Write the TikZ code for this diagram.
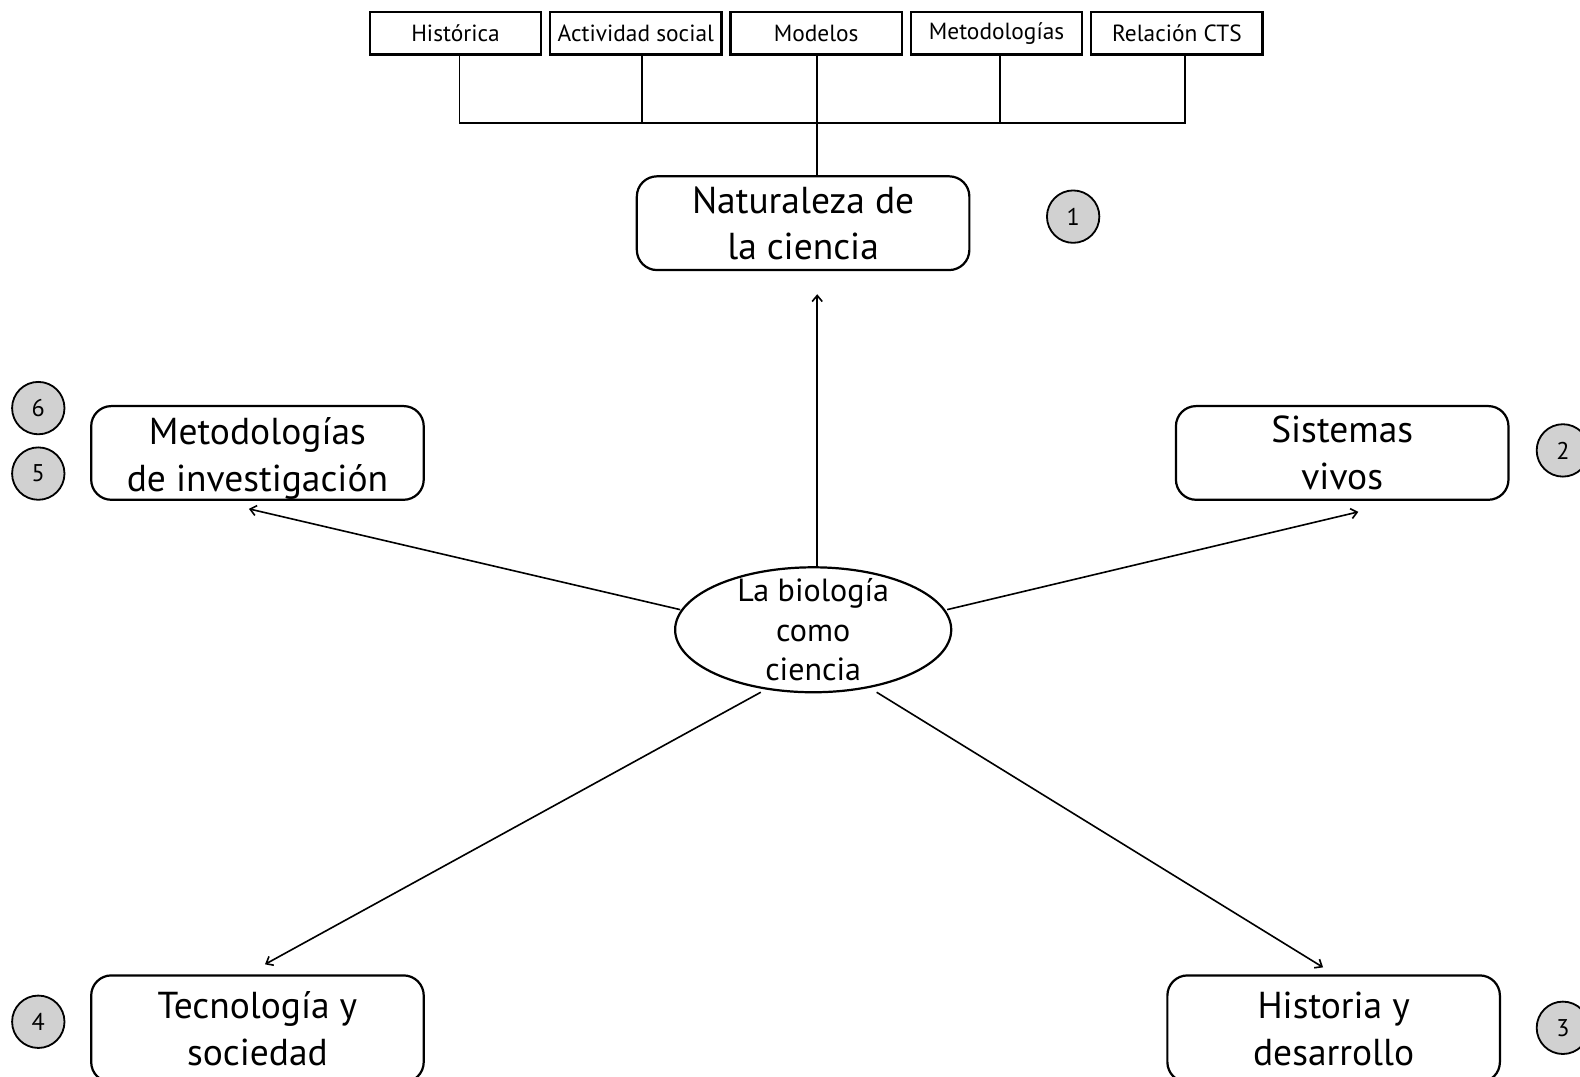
\documentclass[tikz,border=0pt]{standalone}
\usepackage{fontspec}
\setmainfont{PT Sans}
\usetikzlibrary{arrows.meta,shapes.geometric}
\begin{document}
\begin{tikzpicture}[x=0.5pt,y=-0.5pt,
  topbox/.style={draw,line width=1.1pt,minimum width=85pt,minimum height=21pt,inner sep=0pt,font=\fontsize{11.6}{13}\selectfont},
  bigbox/.style={draw,line width=1.1pt,rounded corners=10pt,minimum width=165pt,minimum height=46.5pt,inner sep=0pt,align=center,font=\fontsize{18.6}{23}\selectfont},
  bigtext/.style={inner sep=0pt,align=center,font=\fontsize{18.6}{23}\selectfont},
  numc/.style={circle,draw,line width=0.9pt,fill=black!18,minimum size=26pt,inner sep=0pt,font=\fontsize{12}{14}\selectfont},
  link/.style={line width=0.9pt},
  arr/.style={line width=0.8pt,-{Straight Barb[length=3pt,width=5pt]}}]
\useasboundingbox (0,0) rectangle (1568,1068);
\clip (0,0) rectangle (1568,1068);
% top boxes
\node[topbox] (h1) at (452,33) {Histórica};
\node[topbox] (h2) at (631,33) {Actividad social};
\node[topbox] (h3) at (810,33) {Modelos};
\node[topbox] (h4) at (989,33) {Metodologías};
\node[topbox] (h5) at (1168,33) {Relación CTS};
% main boxes
\node[bigbox] (nat) at (797,221.5) {Naturaleza de\\la ciencia};
\node[bigbox] (met) at (255.5,449.5) {};
\node[bigtext] (metT) at (255.5,455) {Metodologías\\de investigación};
\node[bigbox] (sis) at (1332,449.5) {Sistemas\\vivos};
\node[bigbox,minimum height=53pt] (tec) at (255.5,1021) {Tecnología y\\sociedad};
\node[bigbox,minimum height=53pt] (his) at (1323.5,1021) {Historia y\\desarrollo};
% centre
\node[ellipse,draw,line width=1.1pt,minimum width=137pt,minimum height=62pt,inner xsep=0pt,inner ysep=-5.2pt,align=center,font=\fontsize{15.9}{19.75}\selectfont] (ell) at (807,625) {La biología\\como\\ciencia};
% numbers
\node[numc] (n1) at (1065,215) {1};
\node[numc] (n2) at (1551,447) {2};
\node[numc] (n3) at (1551,1020) {3};
\node[numc] (n4) at (38,1014) {4};
\node[numc] (n5) at (38,470) {5};
\node[numc] (n6) at (38,405) {6};
% tree
\coordinate (bus) at (811,122);
\draw[link] ([xshift=2pt]h1.south) |- (bus);
\draw[link] ([xshift=3pt]h2.south) |- (bus);
\draw[link] ([xshift=1.5pt]h4.south) |- (bus);
\draw[link] ([xshift=4pt]h5.south) |- (bus);
\draw[link] ([xshift=0.5pt]h3.south) -- ([xshift=0.5pt]h3.south |- nat.north);
% arrows
\coordinate (tNat) at (811,292);
\coordinate (tMet) at (247,505);
\coordinate (tSis) at (1348,508);
\coordinate (tTec) at (263,957);
\coordinate (tHis) at (1313,960);
\coordinate (sNat) at (811,563);
\coordinate (sMet) at (675,605);
\coordinate (sSis) at (940,605);
\coordinate (sTec) at (755,687);
\coordinate (sHis) at (870,687);
\draw[arr] (sNat) -- (tNat);
\draw[arr] (sMet) -- (tMet);
\draw[arr] (sSis) -- (tSis);
\draw[arr] (sTec) -- (tTec);
\draw[arr] (sHis) -- (tHis);
\end{tikzpicture}
\end{document}
